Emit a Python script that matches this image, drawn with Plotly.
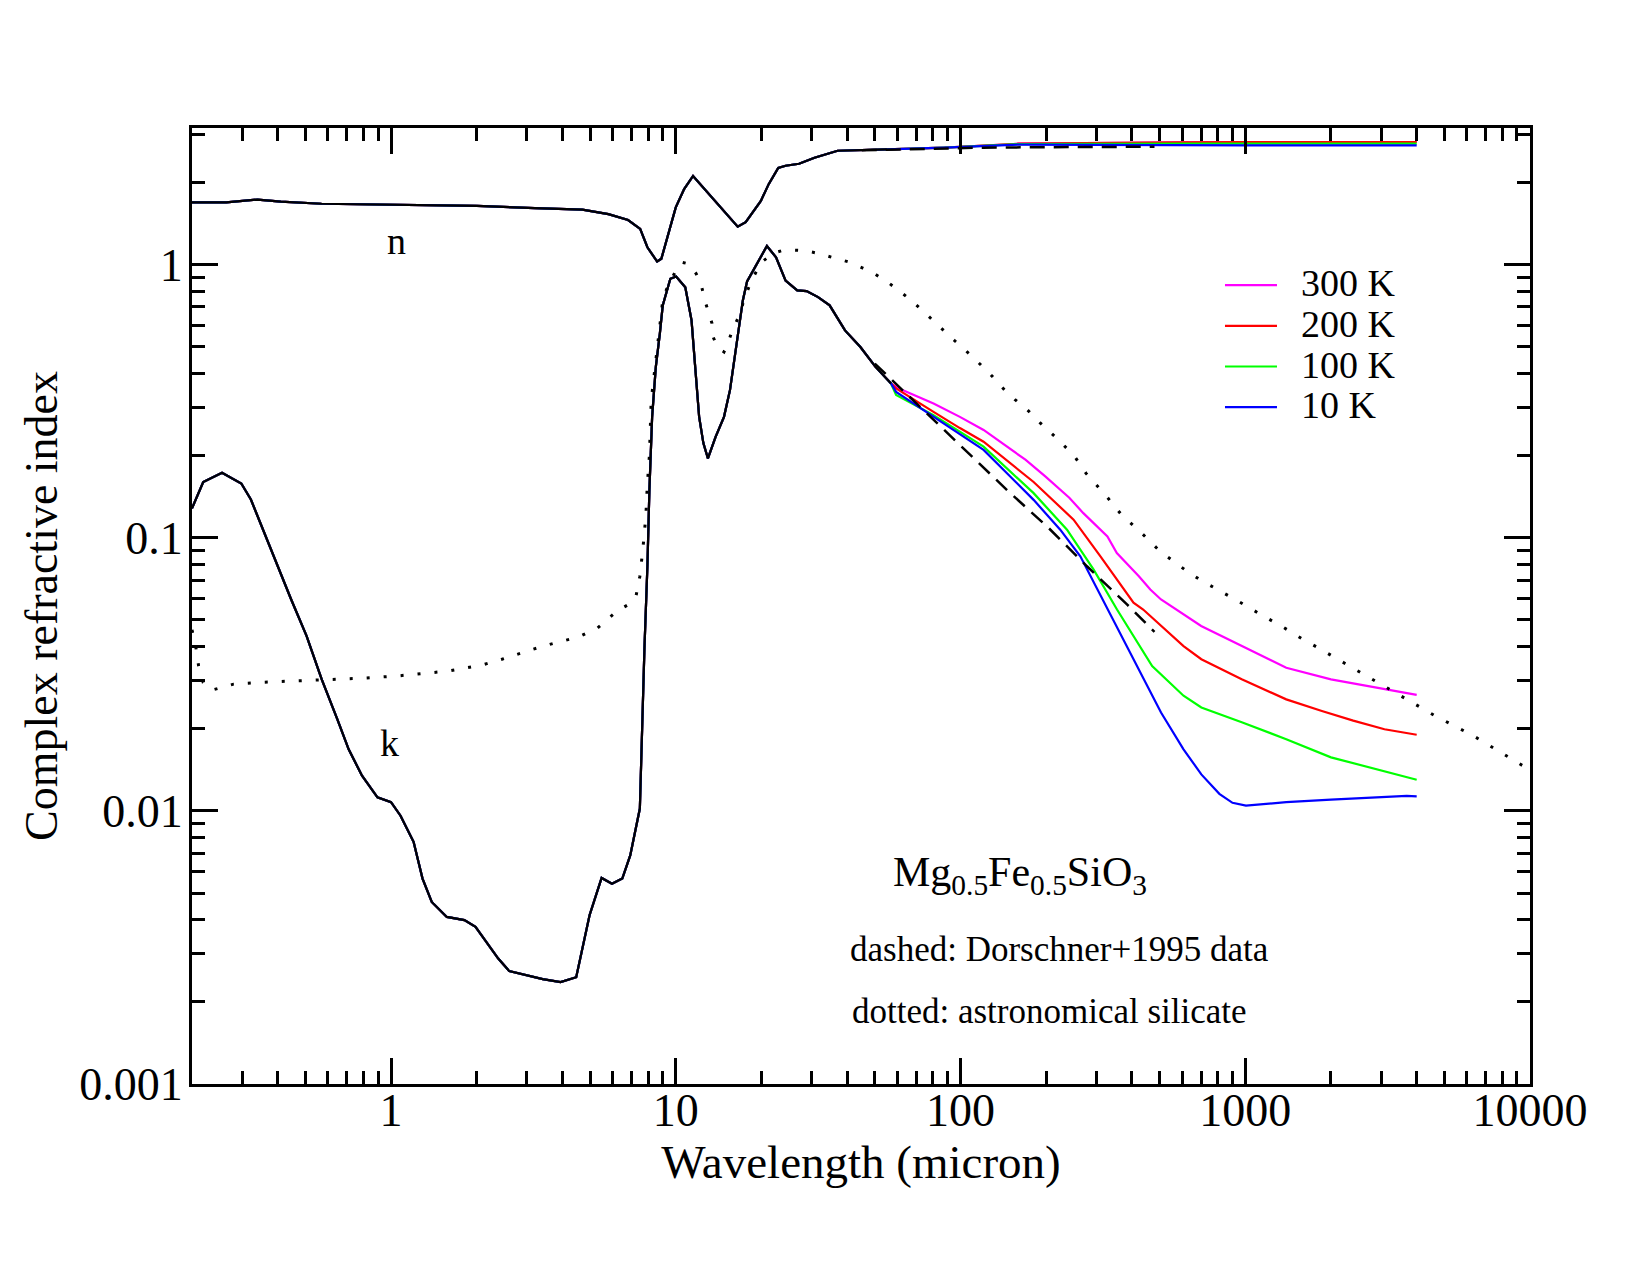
import numpy as np
import plotly.graph_objects as go

# ---------------- data ----------------
# temperature-independent part of n (real index)
lam_n = [0.2, 0.264, 0.34, 0.41, 0.57, 0.97, 2.0, 3.2, 4.7, 5.8, 6.8, 7.5, 7.95, 8.6,
         8.9, 10.0, 10.7, 11.5, 13.3, 15.0, 16.5, 17.6, 19.9, 21.2, 22.9, 24.3, 27.1,
         30.7, 37.0, 55.0]
n_common = [1.69, 1.69, 1.73, 1.70, 1.67, 1.66, 1.64, 1.61, 1.59, 1.53, 1.456, 1.35,
            1.157, 1.026, 1.05, 1.62, 1.89, 2.11, 1.78, 1.55, 1.376, 1.43, 1.71, 1.97,
            2.26, 2.30, 2.34, 2.46, 2.61, 2.64]

# temperature-independent part of k (imaginary index)
lam_k = [0.2, 0.219, 0.255, 0.298, 0.322, 0.359, 0.394, 0.446, 0.505, 0.571, 0.647,
         0.71, 0.791, 0.896, 1.0, 1.08, 1.2, 1.29, 1.39, 1.57, 1.81, 1.98, 2.38, 2.6,
         3.41, 3.94, 4.47, 4.98, 5.49, 5.97, 6.49, 6.92, 7.48, 7.6, 7.76, 7.95, 8.08,
         8.26, 8.51, 8.79, 9.0, 9.57, 10.03, 10.8, 11.36, 11.7, 12.08, 12.5, 12.97,
         13.8, 14.77, 15.5, 16.2, 17.2, 17.8, 19.0, 20.9, 22.5, 24.3, 26.7, 28.8,
         31.6, 34.7, 39.3, 44.5, 50.3, 57.0]
k_common = [0.128, 0.160, 0.173, 0.158, 0.138, 0.104, 0.081, 0.0594, 0.0437, 0.0303,
            0.0217, 0.0168, 0.01345, 0.0112, 0.01076, 0.0096, 0.0077, 0.00565, 0.00464,
            0.00409, 0.00398, 0.00376, 0.00288, 0.00259, 0.00242, 0.00236, 0.00246,
            0.00415, 0.00568, 0.00541, 0.00565, 0.00687, 0.0102, 0.0194, 0.039, 0.0786,
            0.15, 0.277, 0.422, 0.558, 0.708, 0.887, 0.904, 0.826, 0.625, 0.422, 0.277,
            0.222, 0.195, 0.234, 0.277, 0.347, 0.486, 0.739, 0.868, 0.977, 1.17, 1.063,
            0.874, 0.804, 0.80, 0.760, 0.709, 0.574, 0.499, 0.422, 0.367]

# long-wavelength n for each temperature
lam_n_tail = [88, 160, 300, 600, 1000, 2000, 4000]
n_tail_300 = [2.68, 2.77, 2.79, 2.80, 2.81, 2.81, 2.81]
n_tail_200 = [2.68, 2.77, 2.79, 2.80, 2.81, 2.81, 2.81]
n_tail_100 = [2.68, 2.76, 2.77, 2.77, 2.77, 2.77, 2.77]
n_tail_10 = [2.68, 2.75, 2.74, 2.73, 2.73, 2.73, 2.73]

# long-wavelength k for each temperature
lam_k_300 = [59.4, 62.5, 80.4, 99.5, 120.5, 169, 198, 241, 270, 328, 354, 423, 464, 506,
             700, 1082, 1393, 2000, 3083, 4000]
k_tail_300 = [0.357, 0.347, 0.310, 0.277, 0.248, 0.193, 0.168, 0.140, 0.123, 0.101,
              0.0879, 0.0723, 0.0646, 0.0594, 0.0475, 0.0379, 0.0334, 0.0303, 0.0279,
              0.0266]
lam_k_200 = [59.4, 80.4, 99.5, 120.5, 180.6, 249.5, 310, 405, 438, 607, 701, 972, 1393,
             1858, 2394, 3083, 4000]
k_tail_200 = [0.352, 0.289, 0.252, 0.2246, 0.160, 0.1164, 0.0855, 0.0578, 0.0546,
              0.0401, 0.0359, 0.0303, 0.0256, 0.0232, 0.0214, 0.0199, 0.0190]
lam_k_100 = [59.4, 80.4, 120.5, 180.6, 236.6, 293.5, 354.5, 428, 471, 607, 701, 972,
             1393, 2000, 3083, 4000]
k_tail_100 = [0.333, 0.281, 0.2155, 0.1456, 0.107, 0.0764, 0.0546, 0.0396, 0.0339,
              0.0264, 0.0239, 0.0211, 0.0183, 0.0157, 0.0139, 0.0130]
lam_k_10 = [59.4, 80.4, 120.5, 180.6, 224, 263.5, 307, 390, 506, 607, 701, 811, 902,
            1006, 1393, 2000, 3083, 3690, 4000]
k_tail_10 = [0.342, 0.277, 0.2096, 0.1376, 0.107, 0.0855, 0.063, 0.039, 0.0229, 0.0168,
             0.0136, 0.01154, 0.0107, 0.01045, 0.01076, 0.0110, 0.01122, 0.01134, 0.0113]

# dashed: Dorschner+1995 laboratory data
lam_dash_n = [45, 80, 120, 200, 300, 480]
dash_n = [2.62, 2.66, 2.68, 2.69, 2.70, 2.70]
lam_dash_k = [50, 78.3, 108, 147.5, 204, 278, 385, 458, 480]
dash_k = [0.434, 0.277, 0.201, 0.1476, 0.1085, 0.0786, 0.0569, 0.0475, 0.0452]

# dotted: astronomical silicate k
lam_dot = [0.2, 0.206, 0.211, 0.219, 0.236, 0.28, 0.36, 0.46, 0.59, 0.80, 1.06, 1.59,
           2.07, 2.45, 3.14, 3.61, 4.55, 5.32, 6.21, 6.81, 7.25, 7.48, 7.66, 7.76, 7.85,
           7.95, 8.08, 8.2, 8.47, 8.73, 9.0, 9.34, 9.94, 10.5, 11.1, 11.8, 12.3, 12.7,
           13.06, 13.4, 13.5, 14.0, 14.77, 15.25, 15.8, 16.4, 17.0, 17.4, 18.5, 20.0,
           22.0, 23.6, 25.9, 28.4, 31.5, 36.1, 40.8, 45.2, 49.9, 56.5, 66.1, 74.8, 88.8,
           95.6, 104, 125, 143, 155, 171, 190, 223, 252, 276, 301, 326, 366, 438, 503,
           560, 624, 701, 804, 902, 1024, 1130, 1329, 1460, 1610, 1775, 1950, 2214,
           2467, 2750, 3030, 3340, 3697, 4190, 4636, 6340, 10000]
dot_k = [0.046, 0.0401, 0.0339, 0.0295, 0.0277, 0.0291, 0.0296, 0.0299, 0.0303, 0.0306,
         0.0312, 0.0325, 0.0341, 0.0359, 0.039, 0.0407, 0.0433, 0.0468, 0.0538, 0.0569,
         0.0611, 0.0723, 0.0904, 0.107, 0.1196, 0.158, 0.2, 0.319, 0.422, 0.574, 0.739,
         0.826, 0.937, 1.02, 1.006, 0.925, 0.838, 0.729, 0.661, 0.61, 0.546, 0.499,
         0.479, 0.516, 0.574, 0.625, 0.689, 0.75, 0.88, 1.02, 1.10, 1.125, 1.13, 1.125,
         1.10, 1.058, 1.02, 0.973, 0.925, 0.85, 0.75, 0.667, 0.563, 0.525, 0.486,
         0.405, 0.347, 0.321, 0.295, 0.264, 0.226, 0.198, 0.172, 0.156, 0.1416, 0.122,
         0.1026, 0.089, 0.082, 0.0754, 0.0697, 0.0646, 0.0602, 0.0558, 0.0524, 0.0477,
         0.0449, 0.0422, 0.0399, 0.0377, 0.0349, 0.0325, 0.0305, 0.0288, 0.0271,
         0.0256, 0.0237, 0.0223, 0.0188, 0.0141]

temps = ["300 K", "200 K", "100 K", "10 K"]
colors = ["#ff00ff", "#ff0000", "#00ff00", "#0000ff"]
n_tails = [n_tail_300, n_tail_200, n_tail_100, n_tail_10]
k_lams = [lam_k_300, lam_k_200, lam_k_100, lam_k_10]
k_tails = [k_tail_300, k_tail_200, k_tail_100, k_tail_10]

x_tickvals = [1, 10, 100, 1000, 10000]
x_ticktext = ["1", "10", "100", "1000", "10000"]
y_tickvals = [0.001, 0.01, 0.1, 1]
y_ticktext = ["0.001", "0.01", "0.1", "1"]

FONT = "Liberation Serif"

# ---------------- figure ----------------
fig = go.Figure()

for name, col, nt, kl, kt in zip(temps, colors, n_tails, k_lams, k_tails):
    xs = lam_n + lam_n_tail + [None] + lam_k + kl
    ys = n_common + nt + [None] + k_common + kt
    label = '<span style="font-size:38px">\u00a0\u00a0' + name + "</span>"
    fig.add_trace(go.Scatter(x=xs, y=ys, mode="lines", name=label,
                             line=dict(color=col, width=2.2), connectgaps=False))

# black solid (common part)
fig.add_trace(go.Scatter(x=lam_n + [None] + lam_k, y=n_common + [None] + k_common,
                         mode="lines", line=dict(color="black", width=2.2),
                         showlegend=False, hoverinfo="skip"))
# dashed lab data
fig.add_trace(go.Scatter(x=lam_dash_n + [None] + lam_dash_k, y=dash_n + [None] + dash_k,
                         mode="lines", line=dict(color="black", width=2.5, dash="15px,9px"),
                         showlegend=False))
# dotted astronomical silicate
fig.add_trace(go.Scatter(x=lam_dot, y=dot_k, mode="lines",
                         line=dict(color="black", width=3, dash="3px,14px"),
                         showlegend=False))

axis_common = dict(type="log", showline=True, linewidth=3, linecolor="black",
                   mirror="ticks", ticks="inside", ticklen=26, tickwidth=3,
                   tickcolor="black", showgrid=False, zeroline=False,
                   tickfont=dict(family=FONT, size=46, color="black"),
                   minor=dict(ticks="inside", ticklen=13, tickwidth=3,
                              tickcolor="black", dtick="D1", showgrid=False))

fig.update_xaxes(range=[np.log10(0.2), 4], tickmode="array", tickvals=x_tickvals,
                 ticktext=x_ticktext, ticklabelstandoff=-16,
                 title=dict(text="Wavelength (micron)",
                            font=dict(family=FONT, size=47, color="black"), standoff=6),
                 **axis_common)
fig.update_yaxes(range=[-3, 0.5], tickmode="array", tickvals=y_tickvals,
                 ticktext=y_ticktext, ticklabelstandoff=-3,
                 title=dict(text="Complex refractive index",
                            font=dict(family=FONT, size=46, color="black"), standoff=8),
                 **axis_common)

annots = [
    dict(x=np.log10(1.045), y=np.log10(1.22), text="n", font=dict(size=38)),
    dict(x=np.log10(0.985), y=np.log10(0.0177), text="k", font=dict(size=38)),
    dict(x=np.log10(162), y=np.log10(0.0058),
         text="Mg<sub>0.5</sub>Fe<sub>0.5</sub>SiO<sub>3</sub>", font=dict(size=42)),
    dict(x=np.log10(222), y=np.log10(0.0031), text="dashed: Dorschner+1995 data",
         font=dict(size=35)),
    dict(x=np.log10(206), y=np.log10(0.00184), text="dotted: astronomical silicate",
         font=dict(size=35)),
]
for a in annots:
    a["font"].update(family=FONT, color="black")
    fig.add_annotation(xref="x", yref="y", showarrow=False, xanchor="center",
                       yanchor="middle", **a)

fig.update_layout(
    width=1650, height=1275,
    margin=dict(l=184, r=128, t=120, b=199),
    paper_bgcolor="white", plot_bgcolor="white",
    font=dict(family=FONT, color="black"),
    showlegend=True,
    legend=dict(x=0.7683, y=0.8622, xanchor="left", yanchor="top",
                bgcolor="rgba(0,0,0,0)", font=dict(family=FONT, size=29, color="black"),
                itemwidth=52, traceorder="normal"),
)

fig.write_html("out.html")
